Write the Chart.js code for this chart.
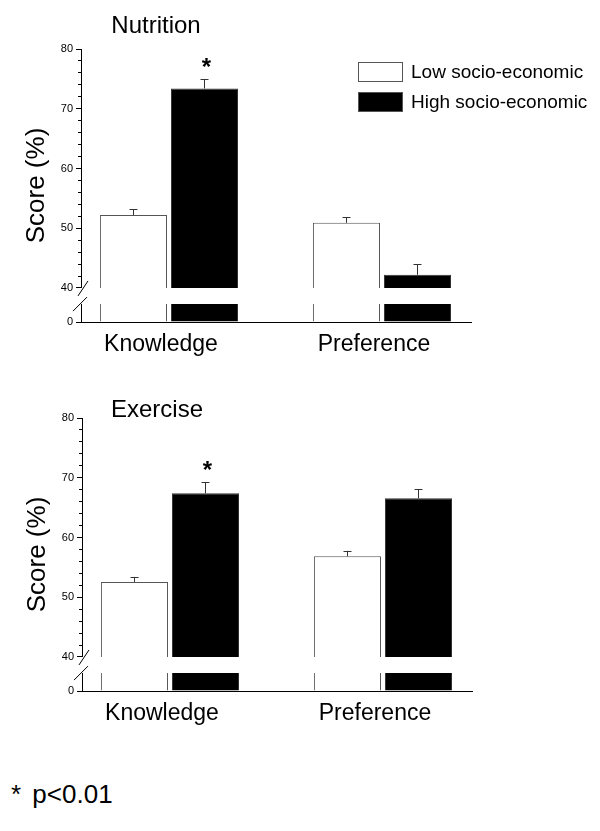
<!DOCTYPE html>
<html>
<head>
<meta charset="utf-8">
<script src="https://cdn.jsdelivr.net/npm/chart.js@4"></script>
<style>
  body { margin: 0; background: #fff; width: 600px; height: 831px; position: relative; overflow: hidden; }
  canvas { position: absolute; }
  #note { position: absolute; left: 11px; top: 781px; font: 26px "Liberation Sans", Arial, sans-serif; line-height: 26px; color: #000; word-spacing: 4px; }
</style>
</head>
<body>
<canvas id="nutrition" width="600" height="369" style="left:0;top:0"></canvas>
<canvas id="exercise" width="600" height="369" style="left:1px;top:369px"></canvas>
<div id="note">* p&lt;0.01</div>
<script>
// ---- data ----
const categories = ['Knowledge', 'Preference'];
const seriesNames = ['Low socio-economic', 'High socio-economic'];
const yTitle = 'Score (%)';
const yTicksMajor = [40, 50, 60, 70, 80];

// Nutrition panel
const nutritionLow = [52.2, 50.9];
const nutritionLowErr = [1.0, 0.9];
const nutritionHigh = [73.4, 42.2];
const nutritionHighErr = [1.5, 1.8];
const nutritionSig = [true, false];

// Exercise panel
const exerciseLow = [52.55, 56.85];
const exerciseLowErr = [0.85, 0.9];
const exerciseHigh = [67.4, 66.55];
const exerciseHighErr = [1.85, 1.5];
const exerciseSig = [true, false];

const FONT = '"Liberation Sans", Arial, sans-serif';

// ---- broken axis, error bars, titles, legend ----
const breakAxis = {
    id: 'breakAxis',
    beforeDatasetDraw(chart, args) {
        // clip each dataset to its own segment of the y stack
        const ds = chart.data.datasets[args.index];
        const ys = chart.scales[ds.yAxisID];
        const area = chart.chartArea;
        chart.ctx.save();
        chart.ctx.beginPath();
        chart.ctx.rect(area.left, ys.top, area.right - area.left, ys.bottom - ys.top);
        chart.ctx.clip();
    },
    afterDatasetDraw(chart) {
        chart.ctx.restore();
    },
    afterDraw(chart, args, opts) {
        const ctx = chart.ctx;
        const area = chart.chartArea;
        const top = chart.scales.yTop;
        const bot = chart.scales.yBot;
        ctx.save();

        // break marks
        ctx.strokeStyle = '#000';
        ctx.lineWidth = 1;
        ctx.beginPath();
        ctx.moveTo(area.left - 3, top.bottom + 8);
        ctx.lineTo(area.left + 7, top.bottom - 7);
        ctx.moveTo(area.left - 8, bot.top + 7);
        ctx.lineTo(area.left + 6, bot.top - 7);
        ctx.stroke();

        // error bars (upper segment datasets)
        [0, 1].forEach(function (d) {
            const ds = chart.data.datasets[d];
            chart.getDatasetMeta(d).data.forEach(function (bar, i) {
                const yErr = top.getPixelForValue(ds.data[i].y + ds.errors[i]);
                const x = Math.round(bar.x) + 0.5;
                ctx.strokeStyle = '#333';
                ctx.beginPath();
                ctx.moveTo(x, bar.y);
                ctx.lineTo(x, yErr);
                ctx.moveTo(x - 4, Math.round(yErr) + 0.5);
                ctx.lineTo(x + 4, Math.round(yErr) + 0.5);
                ctx.stroke();
                if (d === 1 && opts.sig[i]) {
                    ctx.fillStyle = '#000';
                    ctx.font = 'bold 24px ' + FONT;
                    ctx.textAlign = 'center';
                    ctx.textBaseline = 'alphabetic';
                    ctx.fillText('*', bar.x + 2, yErr - 4);
                }
            });
        });

        // panel title
        ctx.fillStyle = '#000';
        ctx.font = '24px ' + FONT;
        ctx.textAlign = 'center';
        ctx.textBaseline = 'alphabetic';
        ctx.fillText(opts.title, 156, opts.titleY);

        // y axis title
        ctx.save();
        ctx.translate(44, (area.top + area.bottom) / 2);
        ctx.rotate(-Math.PI / 2);
        ctx.font = '26px ' + FONT;
        ctx.fillText(yTitle, 0, 0);
        ctx.restore();

        // legend
        if (opts.legend) {
            const fills = ['#ffffff', '#000000'];
            ctx.font = '19px ' + FONT;
            ctx.textAlign = 'left';
            ctx.textBaseline = 'middle';
            seriesNames.forEach(function (name, i) {
                const y = 62 + i * 30;
                ctx.fillStyle = fills[i];
                ctx.fillRect(358, y, 45, 20);
                ctx.strokeStyle = '#555';
                ctx.strokeRect(358.5, y + 0.5, 44, 19);
                ctx.fillStyle = '#000';
                ctx.fillText(name, 411, y + 11);
            });
        }
        ctx.restore();
    }
};

function bars(values, errors, series, axisId) {
    return {
        label: seriesNames[series],
        data: values.map(function (v, i) { return { x: i, y: v }; }),
        errors: errors,
        yAxisID: axisId,
        stack: series === 0 ? 'low' : 'high',
        backgroundColor: series === 0 ? '#ffffff' : '#000000',
        borderColor: series === 0 ? '#555555' : '#333333',
        borderWidth: 1,
        categoryPercentage: 0.667,
        barPercentage: 0.944
    };
}

function yTickStyle() {
    return {
        autoSkip: false,
        callback: function (v) { return yTicksMajor.includes(v) || v === 0 ? v : ''; },
        font: { family: FONT, size: 11 },
        color: '#000',
        padding: 3
    };
}

function yGrid() {
    return {
        drawOnChartArea: false,
        tickLength: 5,
        tickColor: '#000',
        tickBorderDash: function (c) {
            return c.tick && c.tick.value !== 0 && !yTicksMajor.includes(c.tick.value) ? [0, 2, 10] : [];
        }
    };
}

function makePanel(id, title, titleY, low, lowErr, high, highErr, sig, legend) {
    return new Chart(document.getElementById(id), {
        type: 'bar',
        data: {
            datasets: [
                bars(low, lowErr, 0, 'yTop'),
                bars(high, highErr, 1, 'yTop'),
                bars(low, lowErr, 0, 'yBot'),
                bars(high, highErr, 1, 'yBot')
            ]
        },
        options: {
            responsive: false,
            animation: false,
            layout: { padding: { top: 49, right: 129, bottom: 0, left: 0 } },
            scales: {
                x: {
                    type: 'linear',
                    min: -0.413,
                    max: 1.418,
                    offset: false,
                    stacked: true,
                    afterBuildTicks: function (axis) {
                        axis.ticks = categories.map(function (c, i) { return { value: i }; });
                    },
                    afterFit: function (axis) { axis.height = 47; },
                    grid: { display: false, drawTicks: false },
                    border: { color: '#000', width: 1 },
                    ticks: {
                        callback: function (v) { return categories[v]; },
                        font: { family: FONT, size: 23 },
                        color: '#000',
                        padding: 9,
                        labelOffset: -8,
                        autoSkip: false,
                        maxRotation: 0
                    }
                },
                yTop: {
                    axis: 'y', position: 'left', stack: 'y', stackWeight: 40, weight: 3,
                    min: 40, max: 80, stacked: false,
                    afterFit: function (axis) { axis.width = 81; },
                    ticks: Object.assign(yTickStyle(), { stepSize: 2 }),
                    grid: yGrid(),
                    border: { color: '#000', width: 1 }
                },
                yGap: {
                    axis: 'y', position: 'left', stack: 'y', stackWeight: 2.7, weight: 2,
                    min: 0, max: 1,
                    afterFit: function (axis) { axis.width = 81; },
                    ticks: { display: false },
                    grid: { display: false },
                    border: { display: false }
                },
                yBot: {
                    axis: 'y', position: 'left', stack: 'y', stackWeight: 3, weight: 1,
                    min: 0, max: 3, stacked: false,
                    afterBuildTicks: function (axis) { axis.ticks = [{ value: 0 }]; },
                    afterFit: function (axis) { axis.width = 81; },
                    ticks: yTickStyle(),
                    grid: yGrid(),
                    border: { color: '#000', width: 1 }
                }
            },
            plugins: {
                legend: { display: false },
                tooltip: { enabled: false },
                breakAxis: { title: title, titleY: titleY, sig: sig, legend: legend }
            }
        },
        plugins: [breakAxis]
    });
}

makePanel('nutrition', 'Nutrition', 33, nutritionLow, nutritionLowErr, nutritionHigh, nutritionHighErr, nutritionSig, true);
makePanel('exercise', 'Exercise', 48, exerciseLow, exerciseLowErr, exerciseHigh, exerciseHighErr, exerciseSig, false);
</script>
</body>
</html>
